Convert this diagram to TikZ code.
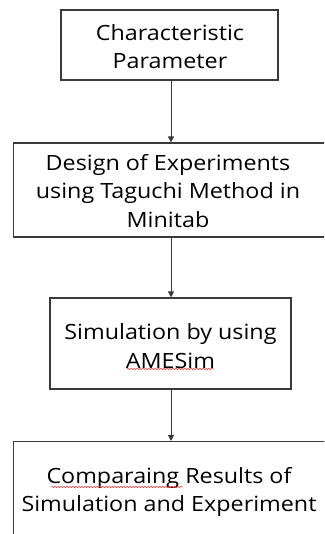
\documentclass[tikz,border=0pt]{standalone}
\usepackage{fontspec}
\setmainfont[FakeStretch=1.11]{Open Sans}
\usetikzlibrary{arrows.meta,decorations.pathmorphing}
\definecolor{boxline}{HTML}{3A3A3A}
\tikzset{
  box/.style={draw=boxline, line width=1.2pt, rectangle, inner sep=0pt},
  label/.style={align=center, font=\fontsize{21}{28.5}\selectfont, inner sep=0pt},
  arr/.style={draw=boxline, line width=0.9pt, -{Triangle[length=6pt,width=6pt]}},
  squiggle/.style={draw=red!80, line width=0.5pt, decorate, decoration={snake, amplitude=0.7pt, segment length=3pt}}
}
\begin{document}
\begin{tikzpicture}[x=1pt,y=1pt]
\useasboundingbox (0,0) rectangle (324,534);
\clip (0,0) rectangle (324,534);
% box 1
\node[box, minimum width=217pt, minimum height=70pt] (b1) at (169.5,489) {};
\node[label] (t1) at (170,487.5) {Characteristic\\Parameter};
% box 2
\node[box, minimum width=330pt, minimum height=94pt, anchor=west] (b2) at (13,344) {};
\node[label] (t2) at (168,343) {Design of Experiments\\using Taguchi Method in\\Minitab};
% box 3
\node[box, minimum width=241pt, minimum height=91pt] (b3) at (170.5,190.5) {};
\node[label] (t3) at (170.5,188) {Simulation by using\\AMESim};
% box 4
\node[box, minimum width=330pt, minimum height=120pt, anchor=north west] (b4) at (13,93) {};
\node[label] (t4) at (169,42) {Comparaing Results of\\Simulation and Experiment};
% spell-check marks
\coordinate (s1a) at (127,165);
\coordinate (s1b) at (214,165);
\draw[squiggle] (s1a) -- (s1b);
\coordinate (s2a) at (51,47);
\coordinate (s2b) at (183,47);
\draw[squiggle] (s2a) -- (s2b);
% arrows
\draw[arr] (171,0 |- b1.south) -- (171,0 |- b2.north);
\draw[arr] (171,0 |- b2.south) -- (171,0 |- b3.north);
\draw[arr] (171,0 |- b3.south) -- (171,0 |- b4.north);
\end{tikzpicture}
\end{document}
